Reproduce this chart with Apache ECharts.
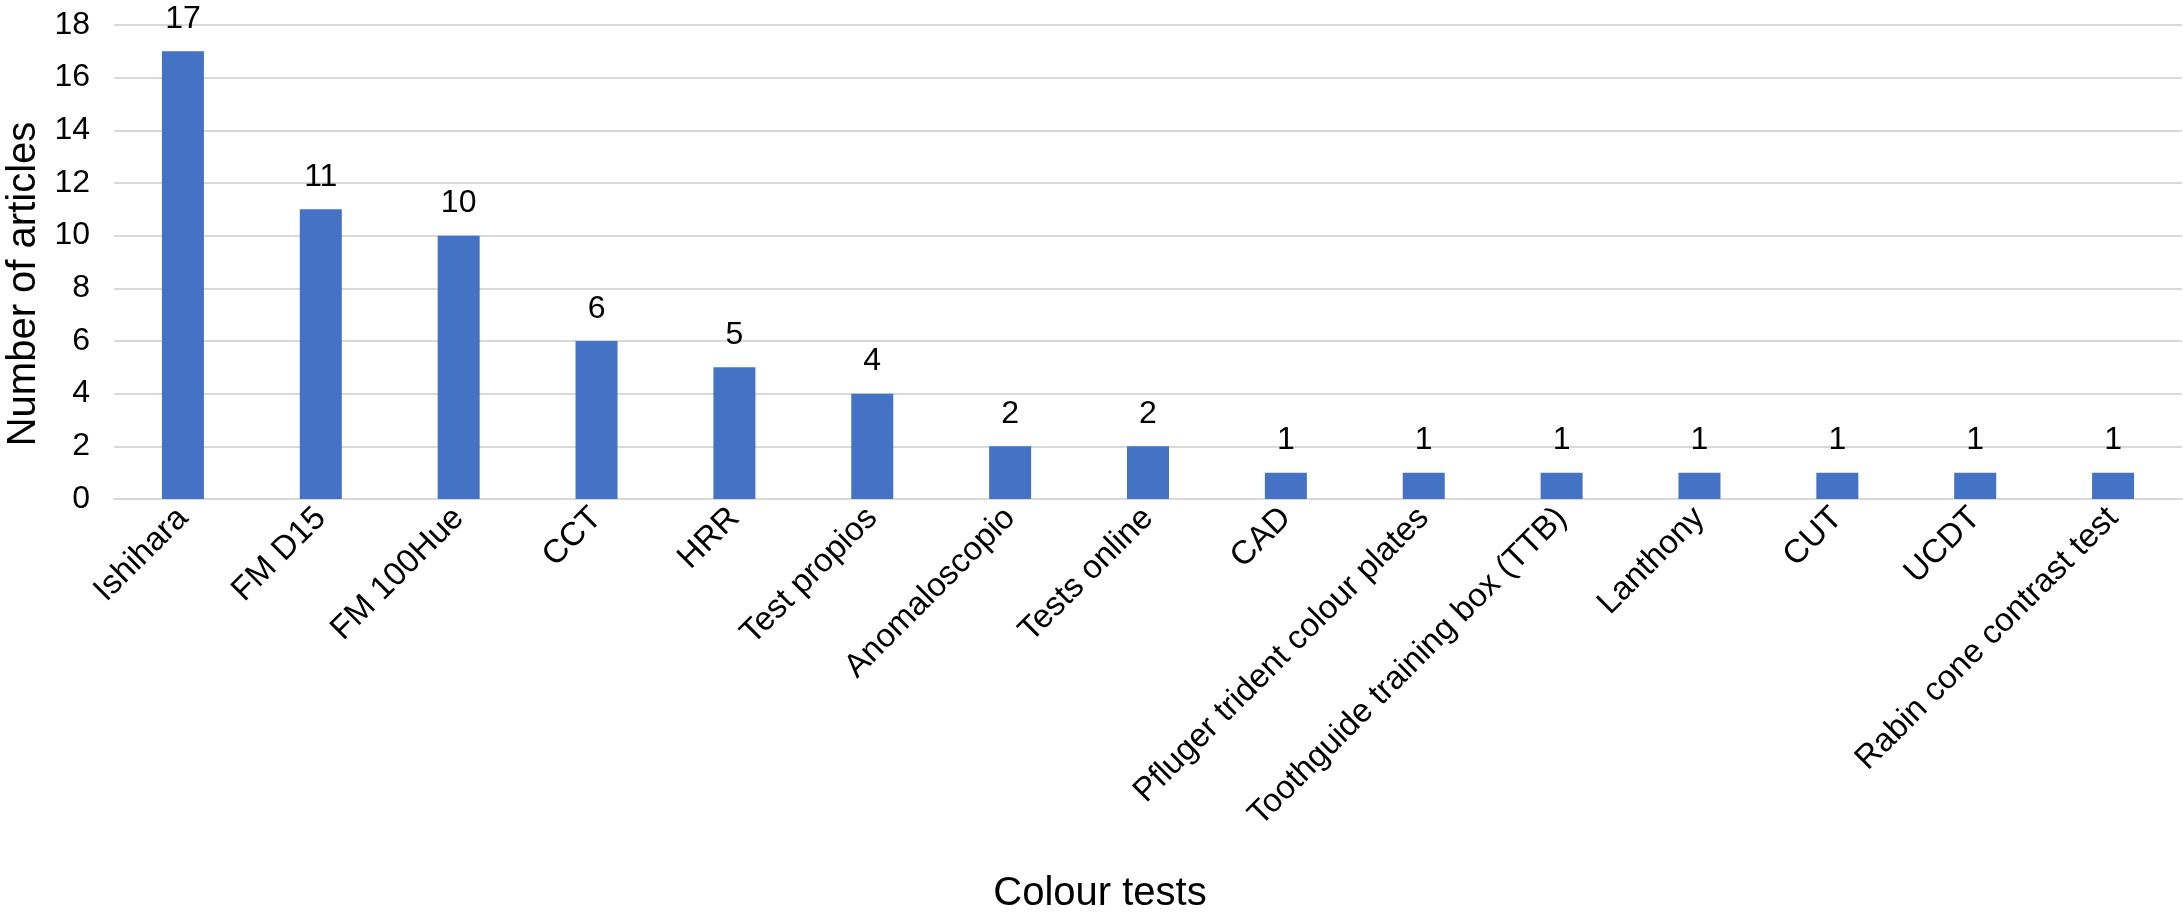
<!DOCTYPE html>
<html>
<head>
<meta charset="utf-8">
<script src="https://cdn.jsdelivr.net/npm/echarts@6/dist/echarts.min.js"></script>
<style>
html,body{margin:0;padding:0;background:#fff;}
#chart{width:2183px;height:913px;}
</style>
</head>
<body>
<div id="chart"></div>
<script>
const categories = ["Ishihara","FM D15","FM 100Hue","CCT","HRR","Test propios","Anomaloscopio","Tests online","CAD","Pfluger trident colour plates","Toothguide training box (TTB)","Lanthony","CUT","UCDT","Rabin cone contrast test"];
const articleCounts = [17, 11, 10, 6, 5, 4, 2, 2, 1, 1, 1, 1, 1, 1, 1];
const yAxisTitle = "Number of articles";
const xAxisTitle = "Colour tests";

const FONT = "'Liberation Sans', Arial, Helvetica, sans-serif";
const chart = echarts.init(document.getElementById('chart'), null, {renderer:'canvas'});
chart.setOption({
  animation: false,
  backgroundColor: '#ffffff',
  textStyle: {fontFamily: FONT, color: '#000'},
  grid: {left: 114, right: 1, top: 25, bottom: 414, containLabel: false, outerBoundsMode: 'none'},
  xAxis: {
    type: 'category',
    data: categories,
    name: xAxisTitle,
    nameLocation: 'middle',
    nameGap: 375,
    nameTextStyle: {fontSize: 40, color: '#000', fontFamily: FONT, padding: [0, 96, 0, 0]},
    axisLine: {show: true, lineStyle: {color: '#d9d9d9', width: 2}},
    axisTick: {show: false},
    axisLabel: {rotate: 45, fontSize: 33, color: '#000', fontFamily: FONT, margin: 14, interval: 0}
  },
  yAxis: {
    type: 'value',
    min: 0, max: 18, interval: 2,
    name: yAxisTitle,
    nameLocation: 'middle',
    nameGap: 70,
    nameRotate: 90,
    nameTextStyle: {fontSize: 40, color: '#000', fontFamily: FONT, padding: [0, 44, 0, 0]},
    axisLine: {show: false},
    axisTick: {show: false},
    axisLabel: {fontSize: 32, color: '#000', fontFamily: FONT, margin: 24},
    splitLine: {show: true, lineStyle: {color: '#d9d9d9', width: 2}}
  },
  series: [{
    type: 'bar',
    data: articleCounts,
    barWidth: 42,
    itemStyle: {color: '#4472C4'},
    label: {show: true, position: 'top', distance: 16, fontSize: 32, color: '#000', fontFamily: FONT}
  }]
});
</script>
</body>
</html>
